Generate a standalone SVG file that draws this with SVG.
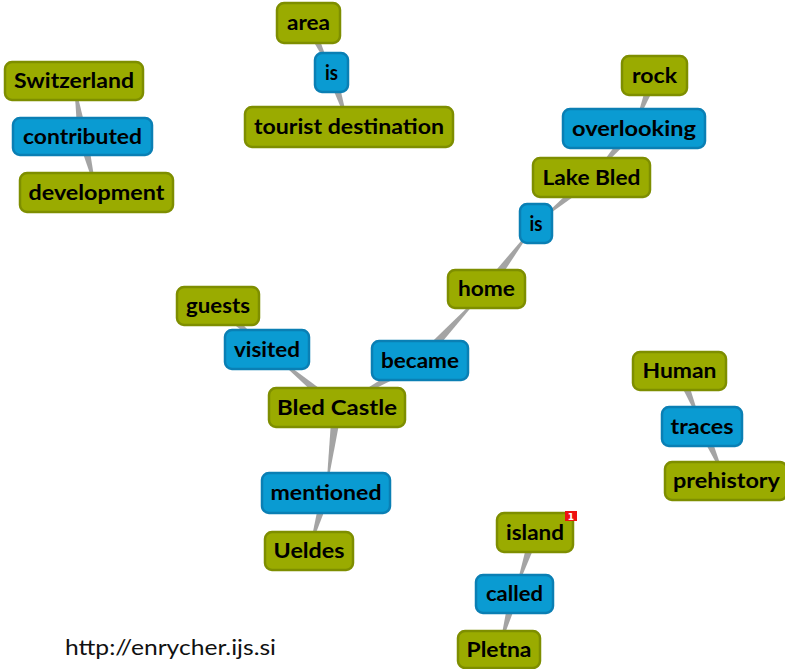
<svg xmlns="http://www.w3.org/2000/svg" width="785" height="669" viewBox="0 0 785 669">
<style>
.g rect{fill:#9aab00;stroke:#7e8e00;stroke-width:2.5}
.b rect{fill:#0a9bd2;stroke:#0a7fb4;stroke-width:2.5}
.n text{font-family:Lato,"Open Sans","DejaVu Sans",sans-serif;font-weight:bold;font-size:20px;fill:#000;text-anchor:middle}
#edges polygon{fill:#a4a4a4}
.foot{font-family:Lato,"Open Sans","DejaVu Sans",sans-serif;font-size:21px;fill:#111}
</style>
<rect width="785" height="669" fill="#fff"/>
<g id="edges">
<polygon points="87.4,135.7 77.6,137.3 74,81"/>
<polygon points="77.6,137.7 87.4,135.3 96.5,192.5"/>
<polygon points="304,25.1 313,20.9 331.5,72.5"/>
<polygon points="326.7,74 336.3,71 349,127"/>
<polygon points="649.8,73.7 659.2,77.3 634,128.5"/>
<polygon points="630.2,125.2 637.8,131.8 591.5,177.5"/>
<polygon points="588.3,173.7 594.7,181.4 536,223.5"/>
<polygon points="490.5,292 482.5,286 536,223.5"/>
<polygon points="423.7,363.9 416.3,357.1 486.5,289"/>
<polygon points="417.5,356.2 422.5,364.9 337,407.5"/>
<polygon points="214.7,309.7 221.3,302.3 267,349.5"/>
<polygon points="340.2,403.7 333.8,411.4 267,349.5"/>
<polygon points="332,406.9 342,408.1 326,493"/>
<polygon points="321.2,491.6 330.8,494.4 309,551"/>
<polygon points="674.9,372.9 684.1,369.1 702,426.5"/>
<polygon points="697.4,428.5 706.6,424.5 726,481"/>
<polygon points="530.3,530.9 539.7,534.1 514.5,594"/>
<polygon points="509.7,592.7 519.3,595.4 499,649.5"/>
</g>
<g id="switzerland" class="n g"><rect x="5" y="62" width="138" height="38" rx="7"/><text x="74" y="88" textLength="120" lengthAdjust="spacingAndGlyphs">Switzerland</text></g>
<g id="contributed" class="n b"><rect x="13" y="118" width="139" height="37" rx="7"/><text x="82.5" y="143.5" textLength="119" lengthAdjust="spacingAndGlyphs">contributed</text></g>
<g id="development" class="n g"><rect x="20" y="173" width="153" height="39" rx="7"/><text x="96.5" y="199.5" textLength="136" lengthAdjust="spacingAndGlyphs">development</text></g>
<g id="area" class="n g"><rect x="277" y="3" width="63" height="40" rx="7"/><text x="308.5" y="30" textLength="43" lengthAdjust="spacingAndGlyphs">area</text></g>
<g id="is1" class="n b"><rect x="315" y="53" width="33" height="39" rx="7"/><text x="331.5" y="79.5" textLength="13" lengthAdjust="spacingAndGlyphs">is</text></g>
<g id="tourist-destination" class="n g"><rect x="245" y="107" width="208" height="40" rx="7"/><text x="349" y="134" textLength="190" lengthAdjust="spacingAndGlyphs">tourist destination</text></g>
<g id="rock" class="n g"><rect x="622" y="56" width="65" height="39" rx="7"/><text x="654.5" y="82.5" textLength="45" lengthAdjust="spacingAndGlyphs">rock</text></g>
<g id="overlooking" class="n b"><rect x="563" y="109" width="142" height="39" rx="7"/><text x="634" y="135.5" textLength="124" lengthAdjust="spacingAndGlyphs">overlooking</text></g>
<g id="lake-bled" class="n g"><rect x="533" y="158" width="117" height="39" rx="7"/><text x="591.5" y="184.5" textLength="98" lengthAdjust="spacingAndGlyphs">Lake Bled</text></g>
<g id="is2" class="n b"><rect x="520" y="204" width="32" height="39" rx="7"/><text x="536" y="230.5" textLength="13" lengthAdjust="spacingAndGlyphs">is</text></g>
<g id="home" class="n g"><rect x="448" y="270" width="77" height="38" rx="7"/><text x="486.5" y="296" textLength="57" lengthAdjust="spacingAndGlyphs">home</text></g>
<g id="guests" class="n g"><rect x="177" y="287" width="82" height="38" rx="7"/><text x="218" y="313" textLength="64" lengthAdjust="spacingAndGlyphs">guests</text></g>
<g id="visited" class="n b"><rect x="225" y="330" width="84" height="39" rx="7"/><text x="267" y="356.5" textLength="66" lengthAdjust="spacingAndGlyphs">visited</text></g>
<g id="became" class="n b"><rect x="372" y="341" width="96" height="39" rx="7"/><text x="420" y="367.5" textLength="78" lengthAdjust="spacingAndGlyphs">became</text></g>
<g id="bled-castle" class="n g"><rect x="269" y="388" width="136" height="39" rx="7"/><text x="337" y="414.5" textLength="120" lengthAdjust="spacingAndGlyphs">Bled Castle</text></g>
<g id="mentioned" class="n b"><rect x="262" y="473" width="128" height="40" rx="7"/><text x="326" y="500" textLength="111" lengthAdjust="spacingAndGlyphs">mentioned</text></g>
<g id="ueldes" class="n g"><rect x="265" y="532" width="88" height="38" rx="7"/><text x="309" y="558" textLength="71" lengthAdjust="spacingAndGlyphs">Ueldes</text></g>
<g id="human" class="n g"><rect x="633" y="352" width="93" height="38" rx="7"/><text x="679.5" y="378" textLength="74" lengthAdjust="spacingAndGlyphs">Human</text></g>
<g id="traces" class="n b"><rect x="662" y="407" width="80" height="39" rx="7"/><text x="702" y="433.5" textLength="63" lengthAdjust="spacingAndGlyphs">traces</text></g>
<g id="prehistory" class="n g"><rect x="665" y="462" width="122" height="38" rx="7"/><text x="726.5" y="488" textLength="107" lengthAdjust="spacingAndGlyphs">prehistory</text></g>
<g id="island" class="n g"><rect x="497" y="513" width="76" height="39" rx="7"/><text x="535" y="539.5" textLength="58" lengthAdjust="spacingAndGlyphs">island</text>
<rect x="565" y="511" width="12" height="10" style="fill:#ee1111;stroke:none"/><text x="571" y="520" style="font-size:9px;fill:#fff;font-family:'DejaVu Sans',sans-serif">1</text></g>
<g id="called" class="n b"><rect x="476" y="575" width="77" height="38" rx="7"/><text x="514.5" y="601" textLength="57" lengthAdjust="spacingAndGlyphs">called</text></g>
<g id="pletna" class="n g"><rect x="458" y="631" width="82" height="37" rx="7"/><text x="499" y="656.5" textLength="65" lengthAdjust="spacingAndGlyphs">Pletna</text></g>
<text class="foot" x="65" y="655" textLength="211" lengthAdjust="spacingAndGlyphs">http://enrycher.ijs.si</text>
</svg>
